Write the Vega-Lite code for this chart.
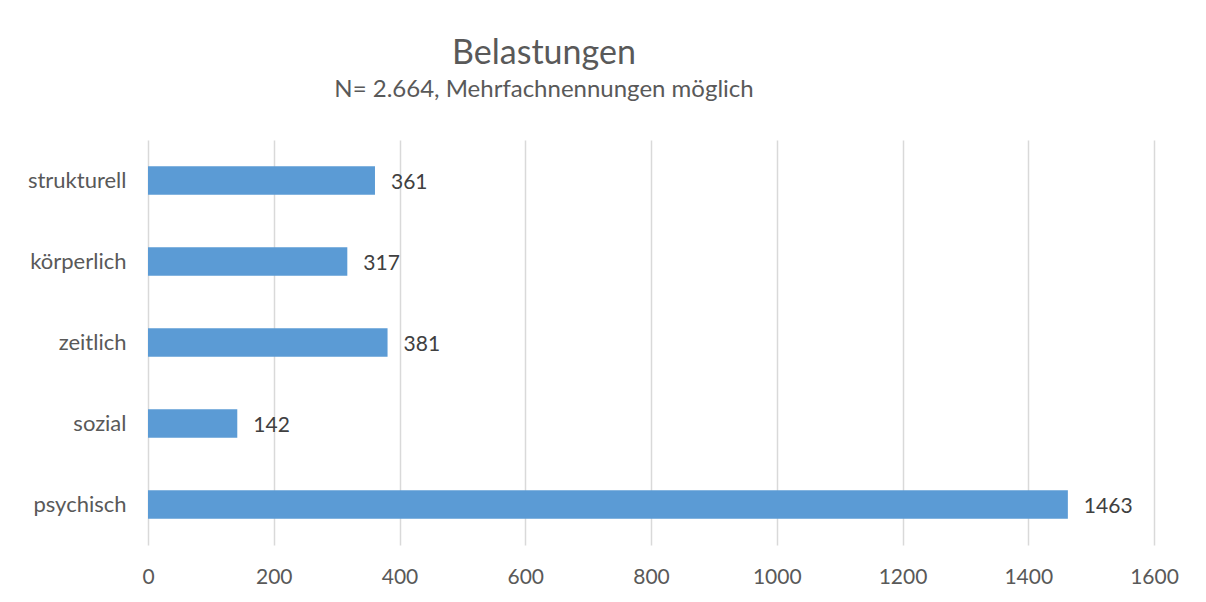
{
  "$schema": "https://vega.github.io/schema/vega-lite/v6.json",
  "width": 1006,
  "height": 405,
  "autosize": {"type": "none"},
  "padding": {"left": 148, "top": 140, "right": 52, "bottom": 57},
  "background": "white",
  "title": {
    "text": "Belastungen",
    "subtitle": "N= 2.664, Mehrfachnennungen möglich",
    "anchor": "middle",
    "frame": "group",
    "dx": -107,
    "offset": 38,
    "font": "Lato",
    "fontSize": 34,
    "fontWeight": "normal",
    "color": "#595959",
    "subtitleFont": "Lato",
    "subtitleFontSize": 24,
    "subtitleColor": "#595959",
    "subtitlePadding": 7
  },
  "data": {
    "values": [
      {"kategorie": "strukturell", "anzahl": 361},
      {"kategorie": "körperlich", "anzahl": 317},
      {"kategorie": "zeitlich", "anzahl": 381},
      {"kategorie": "sozial", "anzahl": 142},
      {"kategorie": "psychisch", "anzahl": 1463}
    ]
  },
  "encoding": {
    "y": {
      "field": "kategorie",
      "type": "nominal",
      "sort": null,
      "scale": {"paddingInner": 0.65, "paddingOuter": 0.325},
      "axis": {
        "title": null,
        "domain": false,
        "ticks": false,
        "grid": false,
        "labelFont": "Lato",
        "labelFontSize": 22,
        "labelColor": "#595959",
        "labelPadding": 22
      }
    },
    "x": {
      "field": "anzahl",
      "type": "quantitative",
      "scale": {"domain": [0, 1600], "nice": false},
      "axis": {
        "title": null,
        "values": [0, 200, 400, 600, 800, 1000, 1200, 1400, 1600],
        "format": "d",
        "domain": false,
        "ticks": false,
        "grid": true,
        "gridColor": "#D9D9D9",
        "gridWidth": 1.5,
        "labelFont": "Lato",
        "labelFontSize": 21,
        "labelColor": "#595959",
        "labelPadding": 21,
        "labelFlush": false
      }
    }
  },
  "layer": [
    {"mark": {"type": "bar", "color": "#5B9BD5"}},
    {
      "mark": {
        "type": "text",
        "align": "left",
        "baseline": "middle",
        "dx": 16,
        "dy": 2,
        "font": "Lato",
        "fontSize": 21,
        "color": "#404040"
      },
      "encoding": {"text": {"field": "anzahl", "type": "quantitative"}}
    }
  ],
  "config": {"view": {"stroke": null}}
}
